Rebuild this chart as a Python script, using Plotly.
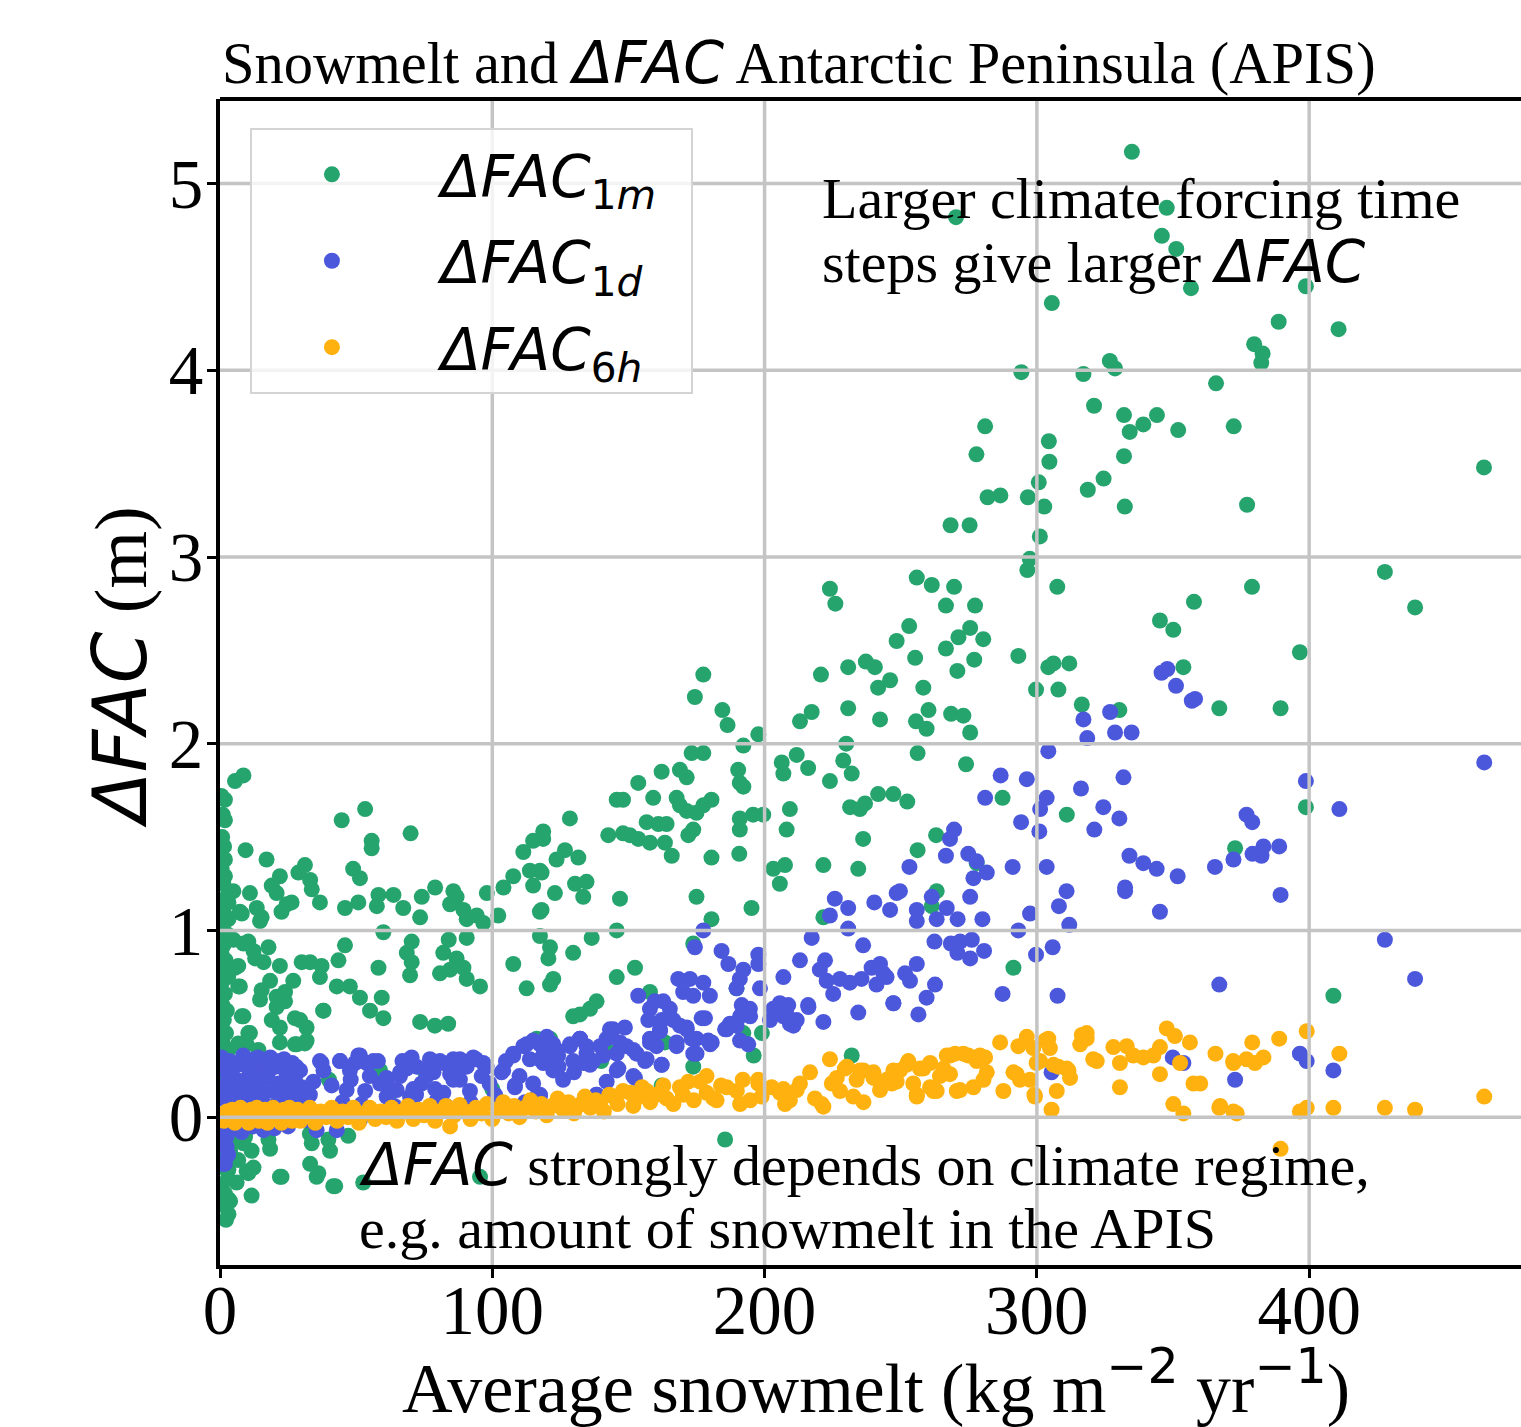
import plotly.graph_objects as go

# ---------------- data ----------------
green_pts = [
    (334.9,5.17),(270.3,4.82),(347.7,4.87),(345.9,4.72),(351.2,4.65),(356.6,4.44),(398.8,4.45),(305.5,4.36),
    (388.8,4.26),(410.8,4.22),(379.8,4.14),(382.9,4.09),(382.4,4.04),(294.3,3.99),(317.1,3.98),(326.8,4.05),
    (328.7,4.01),(365.8,3.93),(321.0,3.81),(332.0,3.76),(344.1,3.76),(339.1,3.71),(334.1,3.67),(351.9,3.68),
    (372.3,3.70),(281.0,3.70),(304.4,3.62),(277.8,3.55),(332.0,3.54),(304.6,3.51),(324.5,3.42),(318.7,3.36),
    (300.7,3.40),(296.7,3.32),(281.9,3.32),(286.6,3.33),(302.7,3.27),(332.3,3.27),(377.2,3.28),(268.3,3.17),
    (275.3,3.17),(301.1,3.11),(297.4,2.99),(296.5,2.93),(427.8,2.92),(438.9,2.73),(255.9,2.89),(261.4,2.85),
    (269.6,2.84),(307.5,2.84),(379.0,2.84),(464.2,3.48),(224.0,2.83),(226.0,2.75),(266.6,2.74),(277.3,2.74),
    (357.7,2.76),(253.1,2.63),(248.5,2.55),(271.2,2.57),(275.5,2.62),(280.3,2.56),(266.6,2.51),(255.3,2.46),
    (277.0,2.45),(293.2,2.47),(345.2,2.66),(350.1,2.61),(396.6,2.49),(270.8,2.39),(246.1,2.34),(258.3,2.30),
    (304.2,2.41),(306.1,2.43),(311.9,2.43),(299.7,2.29),(307.9,2.29),(353.8,2.41),(260.2,2.18),(268.5,2.16),
    (273.0,2.15),(255.6,2.12),(259.5,2.08),(275.5,2.06),(316.5,2.21),(330.3,2.18),(367.0,2.19),(389.5,2.19),
    (256.2,1.95),(274.0,1.89),(247.3,1.73),(252.4,1.69),(287.4,1.71),(311.0,1.62),(263.0,1.51),(256.2,1.43),
    (277.9,1.36),(263.2,1.21),(261.4,1.13),(291.4,0.80),(372.8,1.44),(398.8,1.66),(408.9,0.65),
    (177.5,2.37),(174.4,2.25),(184.5,2.18),(186.4,2.10),(220.7,2.37),(230.7,2.41),(237.2,2.44),(240.5,2.41),
    (241.7,2.30),(230.7,2.19),(213.0,2.12),(217.3,2.17),(242.4,2.13),(197.7,2.05),(192.2,1.99),(230.0,2.00),
    (173.2,1.95),(177.5,1.95),(206.3,1.90),(211.8,1.94),(216.0,1.87),(206.9,1.84),(228.9,1.91),(232.0,1.84),
    (224.0,1.80),(190.3,1.86),(190.9,1.79),(192.2,1.77),(162.2,1.85),(168.9,1.86),(171.4,1.82),(153.6,1.79),
    (145.7,1.70),(148.0,1.70),(159.1,1.71),(167.7,1.71),(168.9,1.67),(177.5,1.67),(180.5,1.70),(171.4,1.64),
    (175.0,1.63),(190.9,1.60),(195.8,1.62),(199.5,1.62),(209.3,1.65),(208.1,1.54),(190.9,1.54),(236.9,1.68),
    (241.7,1.73),(231.4,1.66),(235.0,1.65),(156.7,1.58),(161.0,1.57),(164.0,1.57),(173.8,1.54),(172.0,1.51),
    (150.5,1.51),(153.6,1.49),(157.9,1.47),(163.4,1.47),(165.9,1.40),(142.6,1.51),(148.0,1.52),(118.7,1.53),
    (118.7,1.49),(128.5,1.60),(123.6,1.38),(126.7,1.43),(131.6,1.39),(180.5,1.39),(190.7,1.41),(236.2,1.49),
    (203.2,1.33),(207.5,1.35),(205.6,1.25),(221.6,1.35),(234.4,1.33),(118.1,1.31),(130.4,1.25),(134.6,1.26),
    (133.4,1.18),(123.0,1.20),(146.9,1.17),(175.0,1.18),(195.2,1.12),(180.5,1.06),(221.6,1.07),(118.1,1.11),
    (136.5,0.96),(145.7,1.00),(173.8,0.93),(121.2,0.91),(129.7,0.88),(120.6,0.85),(152.4,0.80),(145.7,0.75),
    (122.4,0.74),(121.2,0.71),(189.7,0.69),(157.9,0.67),(138.3,0.62),(135.9,0.58),(129.7,0.54),(132.2,0.55),
    (192.2,0.45),(199.0,0.45),(121.2,0.42),(116.3,0.42),(142.0,0.36),(163.4,0.40),(173.8,0.27),(162.2,0.17),
    (185.5,-0.12),
    (5.5,1.80),(8.6,1.83),(1.8,1.70),(1.8,1.59),(53.3,1.65),(44.7,1.59),(55.7,1.48),(55.7,1.44),(70.0,1.52),
    (9.4,1.43),(17.1,1.38),(48.9,1.33),(51.4,1.28),(31.2,1.35),(28.8,1.31),(22.0,1.29),(33.1,1.27),(33.7,1.22),
    (36.7,1.15),(19.0,1.24),(20.8,1.20),(24.5,1.14),(26.3,1.15),(22.6,1.10),(11.0,1.20),(4.9,1.21),(7.3,1.10),
    (13.5,1.12),(15.3,1.07),(45.9,1.12),(50.8,1.15),(58.2,1.19),(57.6,1.13),(63.7,1.19),(67.3,1.12),(74.1,1.18),
    (79.0,1.23),(85.7,1.21),(86.9,1.18),(84.5,1.14),(89.4,1.11),(90.6,1.06),(94.3,1.08),(96.7,1.04),(98.0,1.20),
    (102.2,1.08),(104.1,1.23),(73.5,1.07),(60.0,0.99),(117.5,1.10),(115.0,1.48),(111.4,1.42),(107.7,1.29),
    (113.8,1.32),(117.5,1.32),(115.0,1.24),(117.5,0.97),(107.7,0.82),(112.6,0.69),
    (4.9,0.95),(8.6,0.93),(12.3,0.89),(17.8,0.91),(16.0,0.83),(22.0,0.81),(18.4,0.73),(26.9,0.73),(23.9,0.62),
    (14.7,0.63),(20.8,0.59),(19.0,0.52),(22.0,0.48),(29.4,0.52),(31.8,0.48),(22.0,0.40),(28.2,0.39),(31.8,0.41),
    (9.8,0.39),(8.6,0.54),(11.0,0.45),(7.3,0.70),(5.5,0.80),(33.1,0.83),(30.0,0.83),(37.3,0.81),(36.7,0.75),
    (43.5,0.84),(45.9,0.92),(42.9,0.70),(47.7,0.70),(51.4,0.64),(37.9,0.57),(55.1,0.57),(59.4,0.64),(60.0,0.53),
    (58.2,0.80),(69.8,0.76),(70.4,0.83),(68.6,0.88),(70.4,0.94),(82.0,0.88),(86.9,0.85),(89.4,0.80),(80.8,0.77),
    (84.5,0.79),(90.6,0.74),(95.5,0.70),(73.5,0.51),(78.9,0.49),(83.8,0.50),(90.6,0.96),(84.0,0.95),
    (1.8,1.38),(1.8,1.29),(3.1,1.15),(8.0,1.09),(14.7,1.05),(3.1,1.06),(10.4,0.94),(12.9,0.85),(6.7,0.81),
    (6.7,0.70),(15.3,0.68),(23.9,0.67),(20.8,0.645),(38.0,0.57),(8.0,0.54),(27.5,0.53),(10.4,0.45),(6.7,0.395),
    (14.1,0.36),(27.5,0.39),(31.2,0.395),
    (3.7,-0.18),(8.6,-0.14),(12.3,-0.27),(9.8,-0.29),(6.1,-0.35),(11.6,-0.42),(3.7,-0.45),(3.1,-0.52),
    (18.4,-0.17),(22.0,-0.32),(33.1,-0.25),(35.5,-0.32),(40.4,-0.18),(42.3,-0.37),(47.1,-0.10),(52.6,-0.35),
    (95.5,-0.32),(4.3,-0.12),(9.2,-0.105),(17.8,-0.12),(6.7,-0.23),(11.6,-0.18),(10.4,-0.30),(3.1,-0.28),
    (3.1,-0.44),(22.6,-0.32),(33.7,-0.14),(36.1,-0.30),(39.8,-0.12),(41.6,-0.37),(33.0,-0.09),
    (0.5,1.72),(1.0,1.62),(0.8,1.50),(1.5,1.45),(0.6,1.33),(1.2,1.25),(2.4,1.18),(0.7,1.12),(1.9,1.08),
    (0.9,1.02),(2.6,0.98),(1.3,0.92),(0.5,0.88),(2.1,0.84),(1.1,0.78),(3.0,0.75),(0.6,0.72),(1.8,0.66),
    (0.9,0.60),(2.5,0.57),(1.4,0.52),(0.5,0.48),(2.2,0.45),(1.0,0.40),(3.2,0.36),(0.7,0.33),(1.6,0.29),
    (2.8,0.24),(0.6,0.18),(1.9,0.12),(1.2,-0.05),(2.5,-0.10),(0.8,-0.20),(1.5,-0.27),(2.9,-0.33),(0.6,-0.38),
    (1.8,-0.41),(1.0,-0.47),(2.2,-0.55),
    (40.0,0.20),(58.8,0.25),(75.0,0.25),(100.0,0.15),(62.0,0.12),(25.0,0.22),(12.0,0.18),(140.0,0.30),
    (232.0,0.33),(196.0,0.33),
]

blue_pts = [
    (345.8,2.38),(347.9,2.40),(351.1,2.31),(356.9,2.23),(358.1,2.24),(326.9,2.17),(317.1,2.13),(318.5,2.03),
    (328.7,2.06),(334.8,2.06),(304.2,1.96),(286.7,1.83),(296.3,1.81),(316.2,1.76),(331.8,1.82),(281.0,1.71),
    (303.6,1.71),(301.2,1.65),(324.4,1.66),(330.3,1.60),(294.2,1.58),(300.9,1.53),(321.1,1.54),(269.6,1.54),
    (268.1,1.49),(266.6,1.40),(274.8,1.41),(277.9,1.37),(253.2,1.34),(291.1,1.34),(303.6,1.34),(281.6,1.31),
    (276.7,1.28),(334.0,1.40),(339.1,1.36),(344.0,1.33),(351.7,1.29),(365.4,1.34),(372.2,1.38),(332.4,1.23),
    (332.4,1.21),(249.7,1.21),(261.4,1.18),(275.5,1.18),(310.9,1.21),(308.1,1.13),(246.1,1.11),(255.9,1.11),
    (266.9,1.12),(270.9,1.06),(280.0,1.06),(255.9,1.05),(263.2,1.06),(297.5,1.09),(345.2,1.10),(311.9,1.03),
    (293.2,1.00),(262.4,0.94),(268.4,0.93),(271.8,0.94),(276.1,0.95),(270.8,0.88),(275.5,0.85),(280.6,0.89),
    (299.7,0.87),(305.8,0.91),(242.4,0.82),(255.9,0.82),(243.6,0.77),(251.6,0.77),(253.4,0.73),(262.6,0.71),
    (259.5,0.64),(247.3,0.61),(256.5,0.55),(287.4,0.66),(307.6,0.65),(367.0,0.71),(349.9,0.32),(353.8,0.29),
    (372.8,0.20),(305.4,0.24),(464.3,1.90),(398.8,1.80),(411.1,1.65),(377.0,1.62),(379.1,1.58),(383.2,1.45),
    (389.0,1.45),(379.2,1.41),(382.5,1.40),(389.5,1.19),(427.8,0.95),(438.9,0.74),(396.6,0.34),(399.1,0.30),
    (408.9,0.25),
    (225.8,1.17),(230.7,1.12),(240.3,1.15),(248.5,1.20),(224.0,1.08),(230.7,1.01),(177.5,1.00),(217.3,0.96),
    (174.4,0.91),(184.2,0.89),(186.7,0.82),(197.7,0.87),(197.7,0.82),(213.0,0.84),(236.2,0.92),(222.2,0.84),
    (220.3,0.79),(192.2,0.79),(190.9,0.74),(189.7,0.69),(206.9,0.75),(222.8,0.73),(227.7,0.74),(231.3,0.72),
    (235.6,0.74),(239.3,0.80),(241.1,0.71),(244.8,0.75),(225.2,0.66),(198.3,0.69),(168.3,0.74),(172.6,0.74),
    (177.5,0.72),(179.9,0.65),(170.1,0.67),(173.8,0.65),(153.6,0.65),(159.7,0.62),(162.8,0.62),(165.2,0.58),
    (157.9,0.58),(157.3,0.52),(162.2,0.52),(166.5,0.52),(168.9,0.49),(171.4,0.47),(176.9,0.53),(173.2,0.42),
    (161.6,0.47),(157.9,0.40),(160.3,0.38),(167.7,0.38),(175.0,0.42),(180.0,0.39),(173.8,0.34),(191.6,0.60),
    (194.6,0.58),(191.0,0.54),(189.7,0.49),(186.1,0.47),(191.0,0.41),(194.0,0.39),(203.2,0.58),(205.6,0.61),
    (208.7,0.60),(206.9,0.54),(211.8,0.52),(216.0,0.60),(221.6,0.51),(234.4,0.56),(202.0,0.52),(209.3,0.50),
    (144.4,0.47),(148.7,0.48),(142.0,0.42),(146.9,0.40),(149.3,0.38),(153.0,0.34),(156.1,0.30),(162.2,0.28),
    (132.2,0.42),(128.5,0.38),(134.6,0.38),(122.4,0.39),(124.2,0.33),(120.0,0.30),(129.7,0.30),(135.9,0.28),
    (140.8,0.33),(146.3,0.26),(152.4,0.21),(138.3,0.12),(117.5,0.12),(247.3,0.61),(216.1,0.59),(208.1,0.55),
    (210.6,0.49),(192.2,0.58),(194.7,0.54),(187.3,0.50),(185.5,0.47),(180.6,0.40),(178.1,0.53),
    (29.4,0.25),(31.8,0.09),(36.7,0.30),(34.3,0.19),(44.1,0.30),(50.8,0.33),(47.7,0.25),(53.9,0.29),(56.3,0.30),
    (46.5,0.145),(53.3,0.14),(58.8,0.18),(61.2,0.11),(66.1,0.22),(64.9,0.145),(69.8,0.31),(72.2,0.27),
    (69.8,0.11),(75.9,0.22),(80.8,0.30),(85.7,0.31),(84.5,0.23),(89.4,0.27),(79.6,0.09),(88.1,0.20),(91.8,0.14),
    (96.1,0.22),(96.7,0.29),(103.4,0.24),(107.7,0.33),(108.3,0.16),(112.6,0.39),(117.5,0.39),(120.0,0.43),
    (113.8,0.31),(118.7,0.29),(123.6,0.36),(124.3,0.27),(128.5,0.39),(132.2,0.42),(134.6,0.34),(133.4,0.29),
    (137.1,0.30),(139.6,0.38),(143.2,0.47),(145.7,0.34),(145.7,0.25),(151.8,0.36),(156.7,0.31),(157.9,0.42),
    (161.6,0.46),(167.7,0.40),(171.4,0.48),(175.0,0.34),(179.3,0.41),(162.2,0.28),(151.8,0.22),(117.5,0.11),
    (138.3,0.12),(51.4,-0.016),(31.8,-0.016),
    (51.4,0.33),(49.6,0.29),(70.4,0.32),(77.1,0.31),(88.1,0.31),(93.0,0.32),(97.9,0.27),(104.0,0.25),
    (108.3,0.17),(107.7,0.34),(111.4,0.38),(115.0,0.41),(121.2,0.40),(117.5,0.31),(122.4,0.25),(37.3,0.29),
    (44.1,0.30),(82.0,0.29),(66.1,0.24),(71.0,0.15),(78.4,0.24),(61.2,0.21),(68.5,0.26),(82.0,0.13),(85.7,0.20),
    (90.6,0.27),(116.3,0.11),(42.9,-0.07),(35.5,-0.07),(2.4,-0.16),(1.8,-0.25),
    (0.5,0.32),(1.5,0.25),(2.5,0.18),(0.8,0.10),(3.5,0.30),(4.5,0.22),(5.5,0.14),(6.5,0.28),(7.5,0.08),
    (8.5,0.33),(9.5,0.20),(10.5,0.26),(11.5,0.12),(12.5,0.31),(13.5,0.17),(14.5,0.24),(15.5,0.09),(16.5,0.29),
    (17.5,0.21),(18.5,0.32),(19.5,0.14),(20.5,0.27),(21.5,0.18),(22.5,0.07),(23.5,0.31),(24.5,0.23),(25.5,0.15),
    (26.5,0.29),(27.5,0.20),(28.5,0.10),(2.0,0.12),(4.0,0.06),(6.0,0.20),(8.0,0.15),(10.0,0.06),(12.0,0.22),
    (14.0,0.32),(16.0,0.13),(18.0,0.25),(20.0,0.06),(22.0,0.30),(24.0,0.12),(26.0,0.06),(28.0,0.27),(30.0,0.16),
    (0.8,-0.05),(2.5,-0.10),(1.2,-0.15),(3.0,-0.20),(1.0,-0.25),(5.0,-0.06),(8.0,-0.08),(12.0,-0.05),
    (16.0,-0.07),(20.0,-0.06),(25.0,-0.05),(1.8,-0.14),
    (33.0,0.12),(38.0,0.25),(41.0,0.17),(45.0,0.08),(48.0,0.20),(52.0,0.07),(55.0,0.22),(58.0,0.30),(62.0,0.16),
    (64.0,0.06),(67.0,0.30),(72.0,0.12),(74.0,0.18),(77.0,0.28),(79.0,0.15),(83.0,0.06),(86.0,0.24),(92.0,0.08),
    (94.0,0.31),(99.0,0.18),(101.0,0.12),(105.0,0.30),(110.0,0.22),(112.0,0.08),(115.0,0.18),(119.0,0.35),
    (126.0,0.20),(130.0,0.24),(142.0,0.19),
]

orange_pts = [
    (0.5,0.01),(1.5,-0.02),(2.5,0.03),(3.5,0.00),(4.5,0.04),(5.5,-0.03),(6.5,0.02),(7.5,0.05),(8.5,-0.01),
    (9.5,0.03),(10.5,-0.03),(11.5,0.04),(12.5,0.00),(13.5,0.05),(14.5,-0.02),(15.5,0.02),(16.5,0.04),
    (17.5,-0.03),(18.5,0.01),(19.5,0.05),(20.5,-0.01),(21.5,0.03),(22.5,-0.03),(23.5,0.04),(24.5,0.00),
    (25.5,0.05),(26.5,-0.02),(27.5,0.02),(28.5,0.04),(29.5,-0.02),(31.0,0.01),(33.0,0.05),(35.0,-0.03),
    (37.0,0.03),(39.0,0.00),(41.0,0.05),(43.0,-0.02),(45.0,0.03),(47.0,0.00),(49.0,0.05),(51.0,-0.03),
    (53.0,0.02),(55.0,0.05),(57.0,-0.01),(59.0,0.03),(61.0,0.00),(63.0,0.05),(65.0,-0.02),(67.0,0.03),
    (69.0,0.06),(71.0,-0.01),(73.0,0.04),(75.0,0.01),(77.0,0.06),(79.0,-0.02),(81.0,0.03),(83.0,0.06),
    (84.5,-0.05),(86.0,0.01),(88.0,0.065),(90.0,0.03),(92.0,-0.01),(94.0,0.05),(96.0,0.02),(98.0,0.07),
    (100.0,-0.01),(102.0,0.04),(104.0,0.08),(106.0,0.02),(108.0,0.06),(110.0,0.00),(112.0,0.05),(114.0,0.09),
    (116.0,0.03),(118.0,0.07),(120.0,0.01),(122.0,0.06),(124.0,0.10),(126.0,0.04),(128.0,0.08),(130.0,0.02),
    (132.0,0.065),(134.0,0.11),(136.0,0.05),(138.0,0.09),(139.6,0.08),(141.0,0.03),(143.0,0.12),(144.4,0.11),
    (146.0,0.07),(148.0,0.14),(150.6,0.13),(151.8,0.06),(153.0,0.10),(155.0,0.16),(156.7,0.14),(158.0,0.08),
    (160.0,0.12),(162.8,0.17),(164.0,0.10),(166.5,0.07),(168.9,0.16),(170.0,0.12),(172.0,0.19),(174.0,0.09),
    (176.3,0.19),(178.7,0.22),(178.7,0.13),(181.2,0.10),(182.4,0.09),(184.0,0.17),(186.1,0.16),(189.8,0.14),
    (191.0,0.07),(192.0,0.20),(194.7,0.09),(197.7,0.18),(197.7,0.20),(198.9,0.11),(202.6,0.16),(205.7,0.13),
    (206.9,0.15),(207.5,0.07),(209.3,0.09),(211.8,0.145),(213.0,0.18),(216.7,0.24),(218.5,0.10),(221.6,0.056),
    (221.0,0.07),(224.0,0.31),(224.7,0.18),(226.5,0.21),(227.7,0.14),(229.5,0.26),(230.2,0.27),(232.6,0.11),
    (233.8,0.20),(235.0,0.25),(236.3,0.25),(236.3,0.08),(240.0,0.21),(240.0,0.24),(242.4,0.145),(244.9,0.20),
    (246.7,0.18),(247.3,0.25),(249.7,0.25),(252.8,0.30),(254.6,0.18),(255.9,0.11),(257.1,0.26),(260.8,0.29),
    (260.8,0.16),(263.2,0.14),(264.4,0.22),(266.9,0.33),(268.1,0.23),(270.0,0.34),(271.8,0.145),(274.8,0.33),
    (276.7,0.16),(277.9,0.30),(280.4,0.20),(281.0,0.32),(281.6,0.24),(286.5,0.40),(287.7,0.14),(291.4,0.24),
    (293.2,0.38),(293.8,0.20),(296.3,0.43),(297.5,0.20),(298.7,0.37),(299.3,0.11),(301.2,0.30),(304.2,0.42),
    (304.8,0.37),(305.4,0.04),(307.3,0.14),(307.9,0.27),(311.6,0.25),(312.2,0.21),(315.9,0.39),(316.5,0.44),
    (318.3,0.45),(320.7,0.31),
    (347.7,0.475),(350.7,0.434),(356.2,0.40),(345.2,0.375),(342.8,0.33),(333.0,0.38),(328.1,0.375),(335.4,0.33),
    (339.1,0.32),(322.0,0.30),(330.5,0.29),(372.2,0.29),(352.6,0.29),(345.2,0.23),(357.5,0.18),(330.5,0.16),
    (350.1,0.07),(353.8,0.02),(367.3,0.06),(372.2,0.03),(318.3,0.42),(311.0,0.26),(306.1,0.28),(299.9,0.29),
    (299.1,0.12),(292.6,0.23),(303.0,0.41),(255.9,0.12),(262.0,0.14),(270.6,0.14),(248.5,0.19),(252.2,0.28),
    (258.3,0.26),(268.1,0.33),(273.0,0.34),(279.1,0.33),(265.7,0.26),
    (464.3,0.11),(399.1,0.46),(389.0,0.42),(379.1,0.40),(365.6,0.34),(372.1,0.30),(377.0,0.31),(380.1,0.29),
    (383.2,0.32),(411.1,0.34),(360.0,0.18),(367.0,0.05),(373.4,0.02),(396.6,0.03),(399.1,0.05),(408.9,0.05),
    (427.8,0.05),(438.9,0.04),(389.5,-0.17),
]

x_ticks = [0, 100, 200, 300, 400]
y_ticks = [0, 1, 2, 3, 4, 5]

series = [
    ("<i>ΔFAC</i><sub>1<i>m</i></sub>", green_pts, "#26a46e"),
    ("<i>ΔFAC</i><sub>1<i>d</i></sub>", blue_pts, "#4c58dc"),
    ("<i>ΔFAC</i><sub>6<i>h</i></sub>", orange_pts, "#ffb20f"),
]

MATH = "font-family:'DejaVu Sans'"
SERIF = "Liberation Serif"

fig = go.Figure()
for i, (name, pts, color) in enumerate(series):
    fig.add_trace(go.Scatter(
        x=[p[0] for p in pts], y=[p[1] for p in pts], mode="markers",
        name="\u2002" + name + "\u2002", legendgroup="g%d" % i,
        marker=dict(color=color, size=16, line=dict(width=0)),
        cliponaxis=True, hoverinfo="skip"))

fig.update_layout(
    width=1521, height=1427,
    margin=dict(l=220, r=0, t=99, b=162, pad=0),
    plot_bgcolor="white", paper_bgcolor="white",
    font=dict(family=SERIF, color="black"),
    showlegend=True,
    legend=dict(x=0.023, y=0.975, xanchor="left", yanchor="top",
                bgcolor="rgba(255,255,255,0.8)", bordercolor="#d4d4d4", borderwidth=2,
                font=dict(family="DejaVu Sans", size=58, color="black"),
                itemwidth=150, tracegroupgap=8),
    xaxis=dict(range=[0, 477.8], tickvals=x_ticks, ticktext=[str(v) for v in x_ticks],
               showgrid=False, zeroline=False, showline=True, linecolor="black", linewidth=4,
               ticks="outside", ticklen=9, tickwidth=2.5, tickcolor="black", automargin=False,
               tickfont=dict(family=SERIF, size=69, color="black"), layer="above traces",
               ticklabelstandoff=-27),
    yaxis=dict(range=[-0.792, 5.453], tickvals=y_ticks, ticktext=[str(v) for v in y_ticks],
               showgrid=False, zeroline=False, showline=True, linecolor="black", linewidth=4,
               ticks="outside", ticklen=9, tickwidth=2.5, tickcolor="black", automargin=False,
               tickfont=dict(family=SERIF, size=69, color="black"), layer="above traces",
               ticklabelstandoff=-10),
)

# grid lines drawn above the markers, as in the reference
for xv in x_ticks[1:]:
    fig.add_shape(type="line", xref="x", yref="paper", x0=xv, x1=xv, y0=0, y1=1,
                  line=dict(color="#c4c4c4", width=3.5), layer="above")
for yv in y_ticks:
    fig.add_shape(type="line", xref="paper", yref="y", x0=0, x1=1, y0=yv, y1=yv,
                  line=dict(color="#c4c4c4", width=3.5), layer="above")
# top spine
fig.add_shape(type="line", xref="paper", yref="paper", x0=0, x1=1, y0=1, y1=1,
              line=dict(color="black", width=4), layer="above")

# title
fig.add_annotation(xref="paper", yref="paper", x=0, y=1, xanchor="left", yanchor="bottom",
                   yshift=0, showarrow=False,
                   text="Snowmelt and <span style=\"" + MATH + "\"><i>ΔFAC</i></span> Antarctic Peninsula (APIS)",
                   font=dict(family=SERIF, size=58.5, color="black"))

# axis titles
fig.add_annotation(xref="paper", yref="paper", x=0.504, y=0, xanchor="center", yanchor="middle",
                   yshift=-117, showarrow=False,
                   text="Average snowmelt (kg m<sup><span style=\"" + MATH + "\">−2</span></sup> yr<sup><span style=\"" + MATH + "\">−1</span></sup>)",
                   font=dict(family=SERIF, size=70, color="black"))
fig.add_annotation(xref="paper", yref="paper", x=0, y=0.513, xanchor="center", yanchor="middle",
                   xshift=-100, textangle=-90, showarrow=False,
                   text="<span style=\"" + MATH + "\"><i>ΔFAC</i></span> (m)",
                   font=dict(family=SERIF, size=74, color="black"))

notes = [
    (220.3, 4.92, "Larger climate forcing time"),
    (220.3, 4.58, "steps give larger <span style=\"" + MATH + "\"><i>ΔFAC</i></span>"),
    (50.3, -0.257, "<span style=\"" + MATH + "\"><i>ΔFAC</i></span> strongly depends on climate regime,"),
    (50.3, -0.594, "e.g. amount of snowmelt in the APIS"),
]
for nx, ny, txt in notes:
    fig.add_annotation(x=nx, y=ny, xref="x", yref="y", xanchor="left", yanchor="middle",
                       showarrow=False, text=txt, font=dict(family=SERIF, size=58, color="black"))

fig.write_html("out.html", config={"displayModeBar": False},
               post_script="document.body.style.margin='0';document.body.style.overflow='hidden';")
